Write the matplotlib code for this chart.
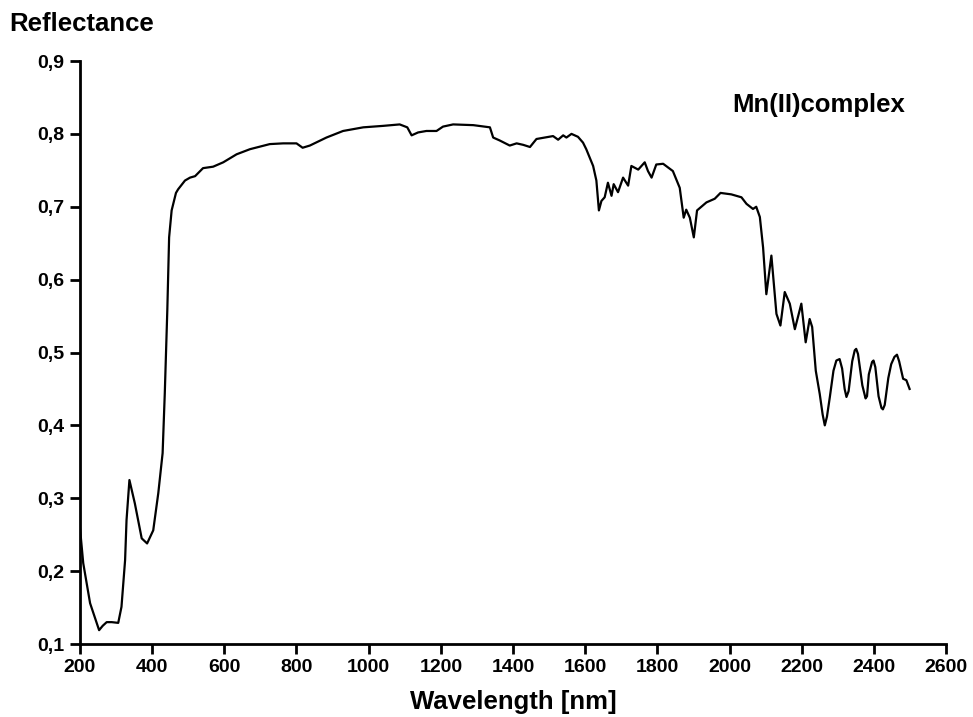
import matplotlib
matplotlib.use("Agg")
import matplotlib.pyplot as plt
from matplotlib.ticker import FuncFormatter

plt.rcParams['font.family'] = ['Liberation Sans', 'DejaVu Sans']

# Diffuse reflectance spectrum of the Mn(II) complex
wavelength = [200, 209, 228, 253, 263, 274, 288, 306, 315, 325, 329, 337, 352, 371, 386,
              403, 417, 429, 435, 442, 447, 454, 466, 472, 491, 505, 519, 541, 569,
              597, 634, 671, 726, 763, 800, 817, 837, 883, 929, 985, 1040, 1086,
              1107, 1119, 1137, 1160, 1188, 1206, 1234, 1290, 1336, 1345, 1363, 1391,
              1410, 1428, 1447, 1465, 1511, 1525, 1539, 1548, 1562, 1580, 1594, 1603,
              1622, 1631, 1638, 1645, 1654, 1663, 1673, 1679, 1691, 1705, 1719, 1728,
              1747, 1765, 1774, 1784, 1797, 1816, 1843, 1862, 1873, 1880, 1890, 1901,
              1910, 1936, 1959, 1975, 2005, 2033, 2047, 2065, 2074, 2084, 2093, 2102,
              2116, 2130, 2141, 2153, 2167, 2181, 2199, 2211, 2222, 2229, 2239, 2250,
              2258, 2264, 2270, 2278, 2288, 2296, 2305, 2312, 2319, 2324, 2330, 2340,
              2347, 2351, 2356, 2368, 2377, 2381, 2386, 2395, 2399, 2404, 2413, 2421,
              2425, 2430, 2440, 2448, 2457, 2464, 2470, 2481, 2490, 2499]
reflectance = [0.259, 0.211, 0.156, 0.119, 0.125, 0.130, 0.130, 0.129, 0.151, 0.215, 0.270,
               0.325, 0.293, 0.245, 0.238, 0.256, 0.307, 0.362, 0.444, 0.558, 0.658,
               0.695, 0.719, 0.724, 0.736, 0.740, 0.742, 0.753, 0.755, 0.761, 0.772,
               0.779, 0.786, 0.787, 0.787, 0.781, 0.784, 0.795, 0.804, 0.809, 0.811,
               0.813, 0.809, 0.798, 0.802, 0.804, 0.804, 0.810, 0.813, 0.812, 0.809,
               0.795, 0.791, 0.784, 0.787, 0.785, 0.782, 0.793, 0.797, 0.792, 0.798,
               0.795, 0.800, 0.796, 0.788, 0.779, 0.756, 0.736, 0.695, 0.708, 0.713,
               0.733, 0.715, 0.731, 0.720, 0.740, 0.729, 0.756, 0.751, 0.761, 0.749,
               0.740, 0.758, 0.759, 0.749, 0.726, 0.685, 0.696, 0.685, 0.658, 0.695,
               0.706, 0.711, 0.719, 0.717, 0.713, 0.704, 0.697, 0.700, 0.686, 0.644,
               0.580, 0.633, 0.553, 0.537, 0.583, 0.567, 0.532, 0.567, 0.514, 0.546,
               0.535, 0.475, 0.443,
               0.415, 0.400, 0.412, 0.439, 0.475, 0.489, 0.491, 0.478, 0.450, 0.439,
               0.447, 0.488, 0.503, 0.505, 0.498, 0.455, 0.437, 0.440, 0.470, 0.487,
               0.489, 0.480, 0.440, 0.424, 0.422, 0.428, 0.465, 0.484, 0.494, 0.497,
               0.488, 0.464, 0.462, 0.450]

x_ticks = [200, 400, 600, 800, 1000, 1200, 1400, 1600, 1800, 2000, 2200, 2400, 2600]
y_ticks = [0.1, 0.2, 0.3, 0.4, 0.5, 0.6, 0.7, 0.8, 0.9]

fig = plt.figure(figsize=(9.73, 7.17), dpi=100)
ax = fig.add_axes([0.0822, 0.1018, 0.8901, 0.8131])

ax.plot(wavelength, reflectance, color='black', linewidth=1.6)

ax.set_xlim(200, 2600)
ax.set_ylim(0.1, 0.9)
ax.set_xticks(x_ticks)
ax.set_yticks(y_ticks)
ax.yaxis.set_major_formatter(FuncFormatter(lambda v, p: f"{v:.1f}".replace('.', ',')))

for side in ('top', 'right'):
    ax.spines[side].set_visible(False)
for side in ('left', 'bottom'):
    ax.spines[side].set_linewidth(2)

ax.tick_params(axis='both', direction='out', length=7, width=2,
               labelsize=14, pad=4)
for lbl in ax.get_xticklabels() + ax.get_yticklabels():
    lbl.set_fontweight('bold')

fig.text(0.010, 0.966, 'Reflectance', fontsize=18.5, fontweight='bold',
         ha='left', va='center')
ax.set_xlabel('Wavelength [nm]', fontsize=18.5, fontweight='bold', labelpad=10)
ax.text(0.953, 0.925, 'Mn(II)complex', transform=ax.transAxes, fontsize=18.5,
        fontweight='bold', ha='right', va='center')

fig.savefig('out.png', dpi=100)
